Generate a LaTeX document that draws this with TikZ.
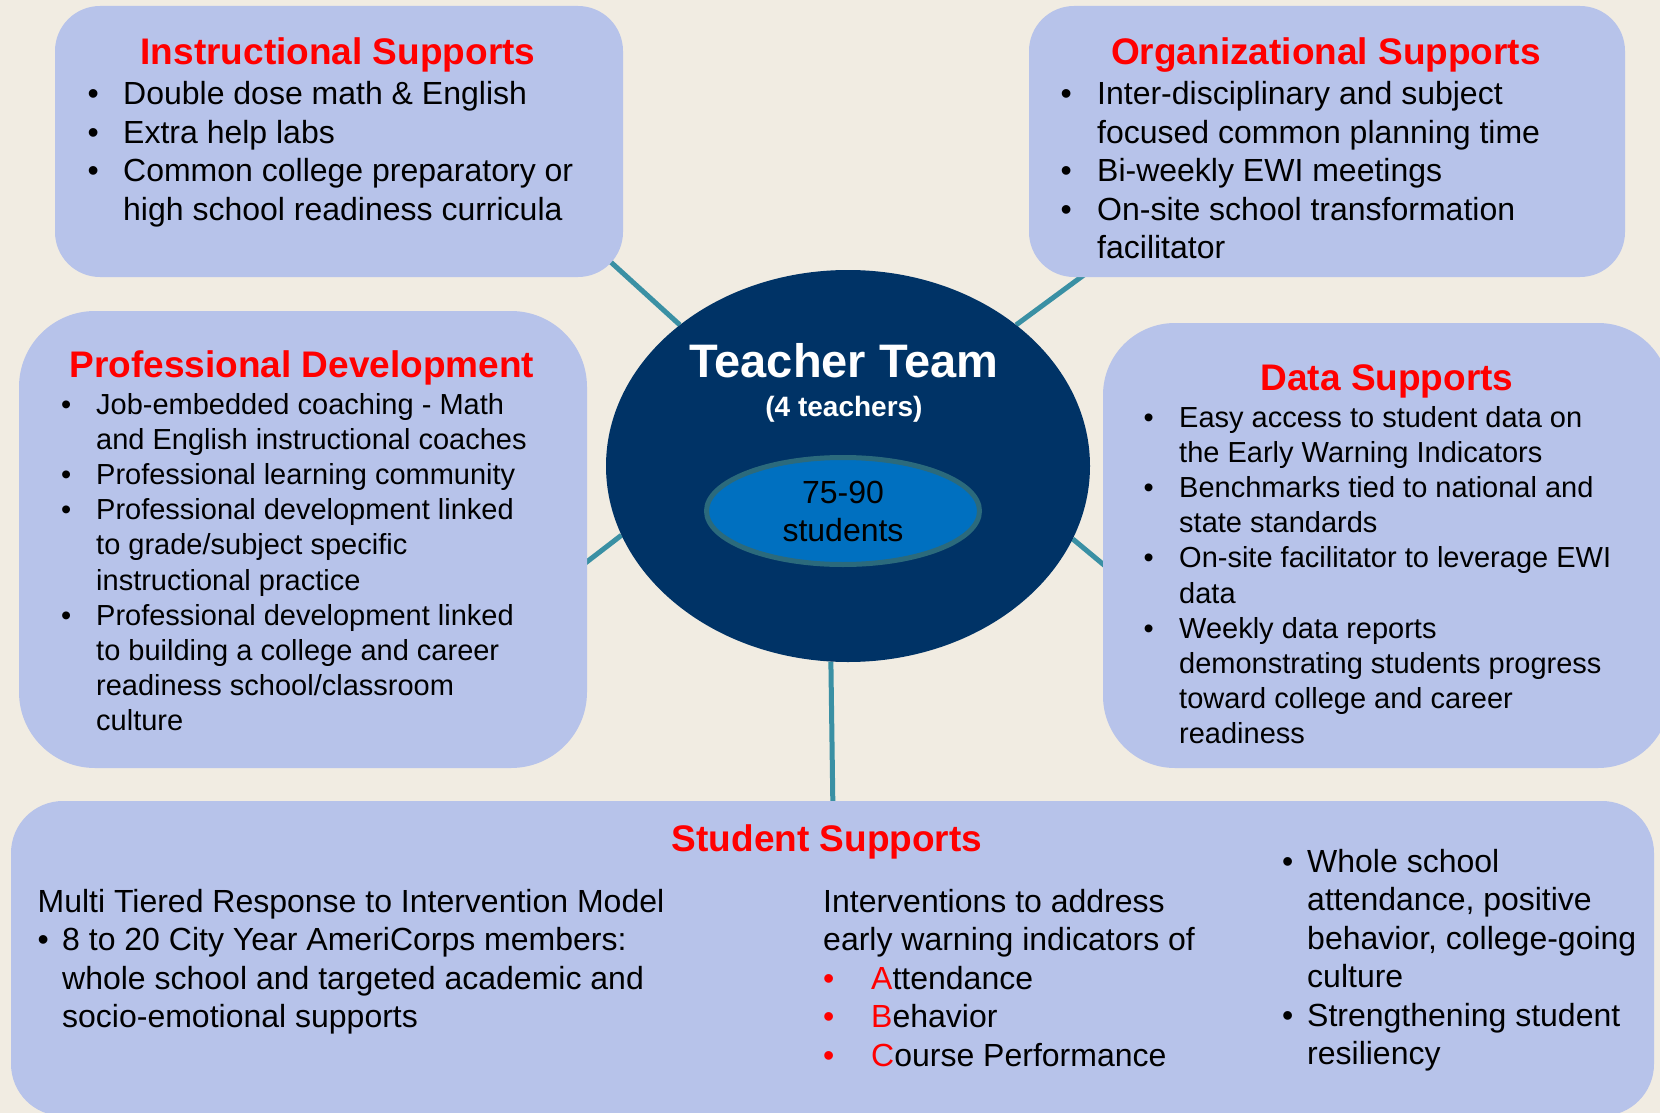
\documentclass[tikz,border=0pt]{standalone}
\usepackage{fontspec}
\setmainfont{Liberation Sans}
\usetikzlibrary{shapes.geometric}
\definecolor{bgc}{HTML}{F1ECE2}
\definecolor{boxfill}{HTML}{B7C3EA}
\definecolor{navy}{HTML}{003366}
\definecolor{inblue}{HTML}{0070C0}
\definecolor{inring}{HTML}{2B6A7C}
\definecolor{connc}{HTML}{3A90A4}
\definecolor{tred}{HTML}{FF0000}
\newlength{\bw}
\newcommand{\bl}{\makebox[\bw][l]{•}}
\newcommand{\rbl}{\makebox[\bw][l]{\textcolor{tred}{•}}}
\pgfdeclarelayer{back}
\pgfdeclarelayer{connl}
\pgfsetlayers{back,connl,main}
\tikzset{
  box/.style={rectangle, fill=boxfill, draw=none, inner sep=0pt},
  body/.style={inner sep=0pt, anchor=base west, font=\fontsize{32}{38.5}\selectfont},
  small/.style={inner sep=0pt, anchor=base west, font=\fontsize{29}{35.2}\selectfont},
  ttl/.style={inner sep=0pt, anchor=base, text=tred, font=\bfseries\fontsize{37}{44}\selectfont},
  conn/.style={draw=connc, line width=5pt},
}
\begin{document}
\begin{tikzpicture}[x=1pt,y=-1pt]
\useasboundingbox (0,0) rectangle (1660,1113);
\begin{pgfonlayer}{back}
\fill[bgc] (0,0) rectangle (1660,1113);
\end{pgfonlayer}

% central ellipse
\node[ellipse, fill=navy, inner sep=0pt, minimum width=484pt, minimum height=392pt] (team) at (848,466) {};
\node[ellipse, fill=inblue, draw=inring, line width=5pt, inner sep=0pt, minimum width=273pt, minimum height=107pt] (stu) at (843,511) {};
\node[inner sep=0pt, anchor=base, text=white, font=\bfseries\fontsize{47}{56}\selectfont] (tt) at (844,377) {Teacher Team};
\node[inner sep=0pt, anchor=base, text=white, font=\bfseries\fontsize{28}{34}\selectfont] (tt2) at (844,416) {(4 teachers)};
\node[inner sep=0pt, anchor=base, font=\fontsize{32}{38}\selectfont] (n1) at (843,503) {75-90};
\node[inner sep=0pt, anchor=base, font=\fontsize{32}{38}\selectfont] (n2) at (843,541) {students};

% boxes
\node[box, minimum width=568pt, minimum height=271pt, rounded corners=45pt] (instr) at (339,141.5) {};
\node[box, minimum width=596pt, minimum height=271pt, rounded corners=45pt] (org) at (1327,141.5) {};
\node[box, minimum width=568pt, minimum height=457pt, rounded corners=76pt] (prof) at (303,539.5) {};
\node[box, minimum width=567pt, minimum height=445pt, rounded corners=72pt] (data) at (1386.5,545.5) {};
\node[box, minimum width=1643pt, minimum height=315pt, rounded corners=52pt] (stud) at (832.5,958.5) {};

% connectors
\coordinate (c1) at (603,255);
\coordinate (c2) at (1090,270.5);
\coordinate (c3) at (575,571);
\coordinate (c4) at (1113,572.5);
\coordinate (c5) at (833,815);
\begin{pgfonlayer}{connl}
\draw[conn] (c1) -- (team.140);
\draw[conn] (c2) -- (team.40);
\draw[conn] (c3) -- (team.197);
\draw[conn] (c4) -- (team.342);
\draw[conn] (c5) -- (team.265);
\end{pgfonlayer}

% Instructional Supports
\node[ttl] (t1) at (338,65) {Instructional Supports};
\node[body] (l1) at (87.4,105) {\setlength{\bw}{35.6pt}\begin{tabular}[t]{@{}l@{}l@{}}
\bl & Double dose math \& English\\
\bl & Extra help labs\\
\bl & Common college preparatory or\\
 & high school readiness curricula
\end{tabular}};

% Organizational Supports
\node[ttl] (t2) at (1326,65) {Organizational Supports};
\node[body] (l2) at (1060.4,105) {\setlength{\bw}{36.6pt}\begin{tabular}[t]{@{}l@{}l@{}}
\bl & Inter-disciplinary and subject\\
 & focused common planning time\\
\bl & Bi-weekly EWI meetings\\
\bl & On-site school transformation\\
 & facilitator
\end{tabular}};

% Professional Development
\node[ttl] (t3) at (302,377) {Professional Development};
\node[small] (l3) at (61,414) {\setlength{\bw}{35pt}\begin{tabular}[t]{@{}l@{}l@{}}
\bl & Job-embedded coaching - Math\\
 & and English instructional coaches\\
\bl & Professional learning community\\
\bl & Professional development linked\\
 & to grade/subject specific\\
 & instructional practice\\
\bl & Professional development linked\\
 & to building a college and career\\
 & readiness school/classroom\\
 & culture
\end{tabular}};

% Data Supports
\node[ttl] (t4) at (1387,390) {Data Supports};
\node[small] (l4) at (1143.5,427) {\setlength{\bw}{35.5pt}\begin{tabular}[t]{@{}l@{}l@{}}
\bl & Easy access to student data on\\
 & the Early Warning Indicators\\
\bl & Benchmarks tied to national and\\
 & state standards\\
\bl & On-site facilitator to leverage EWI\\
 & data\\
\bl & Weekly data reports\\
 & demonstrating students progress\\
 & toward college and career\\
 & readiness
\end{tabular}};

% Student Supports
\node[ttl] (t5) at (827,851) {Student Supports};
\node[body] (l5a) at (37.4,912) {\setlength{\bw}{24.6pt}\begin{tabular}[t]{@{}l@{}l@{}}
\multicolumn{2}{@{}l@{}}{Multi Tiered Response to Intervention Model}\\
\bl & 8 to 20 City Year AmeriCorps members:\\
 & whole school and targeted academic and\\
 & socio-emotional supports
\end{tabular}};
\node[body] (l5b) at (823,912) {\setlength{\bw}{48pt}\begin{tabular}[t]{@{}l@{}l@{}}
\multicolumn{2}{@{}l@{}}{Interventions to address}\\
\multicolumn{2}{@{}l@{}}{early warning indicators of}\\
\rbl & \textcolor{tred}{A}ttendance\\
\rbl & \textcolor{tred}{B}ehavior\\
\rbl & \textcolor{tred}{C}ourse Performance
\end{tabular}};
\node[body] (l5c) at (1282,872) {\setlength{\bw}{25pt}\begin{tabular}[t]{@{}l@{}l@{}}
\bl & Whole school\\
 & attendance, positive\\
 & behavior, college-going\\
 & culture\\
\bl & Strengthening student\\
 & resiliency
\end{tabular}};
\end{tikzpicture}
\end{document}
